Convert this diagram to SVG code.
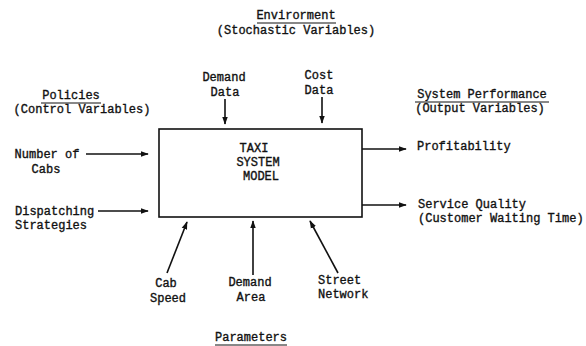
<svg xmlns="http://www.w3.org/2000/svg" width="586" height="346" viewBox="0 0 586 346">
<defs>
<style>
text{font-family:"Liberation Mono","Courier New",monospace;font-size:12px;fill:#111;stroke:#111;stroke-width:0.35}
.c{text-anchor:middle}
.l{stroke:#111;stroke-width:1.6;fill:none}
.u{stroke:#111;stroke-width:1}
</style>
<marker id="ah" viewBox="0 0 10 10" refX="9" refY="5" markerWidth="5" markerHeight="5" orient="auto" markerUnits="strokeWidth">
<path d="M0,1.5 L10,5 L0,8.5 z" fill="#111"/>
</marker>
</defs>
<rect width="586" height="346" fill="#fff"/>
<g id="headings">
<text class="c" x="296" y="19">Envirorment</text>
<line class="u" x1="257" y1="23" x2="336" y2="23"/>
<text class="c" x="296" y="34">(Stochastic Variables)</text>
<text class="c" x="71" y="99">Policies</text>
<line class="u" x1="41" y1="103" x2="101" y2="103"/>
<text class="c" x="82" y="113">(Control Variables)</text>
<text class="c" x="482" y="98">System Performance</text>
<line class="u" x1="415" y1="102" x2="549" y2="102"/>
<text class="c" x="480" y="112">(Output Variables)</text>
<text class="c" x="251" y="341">Parameters</text>
<line class="u" x1="215" y1="345" x2="287" y2="345"/>
</g>
<g id="model">
<rect x="159" y="129" width="203" height="88" fill="#fff" stroke="#111" stroke-width="1.6"/>
<text class="c" x="254" y="152">TAXI</text>
<text class="c" x="258" y="166">SYSTEM</text>
<text class="c" x="261" y="180">MODEL</text>
</g>
<g id="number-of-cabs">
<text class="c" x="47" y="158">Number of</text>
<text class="c" x="46" y="173">Cabs</text>
</g>
<g id="dispatching">
<text x="15" y="215">Dispatching</text>
<text x="15" y="229">Strategies</text>
</g>
<g id="demand-data">
<text class="c" x="224" y="81">Demand</text>
<text class="c" x="225" y="96">Data</text>
</g>
<g id="cost-data">
<text class="c" x="319" y="79">Cost</text>
<text class="c" x="319" y="94">Data</text>
</g>
<g id="profitability">
<text x="417" y="150">Profitability</text>
</g>
<g id="service-quality">
<text x="418" y="208">Service Quality</text>
<text x="418" y="222">(Customer Waiting Time)</text>
</g>
<g id="cab-speed">
<text class="c" x="166" y="287">Cab</text>
<text class="c" x="168" y="302">Speed</text>
</g>
<g id="demand-area">
<text class="c" x="250" y="286">Demand</text>
<text class="c" x="251" y="301">Area</text>
</g>
<g id="street-network">
<text x="318" y="284">Street</text>
<text x="318" y="298">Network</text>
</g>
<g id="connectors">
<line class="l" x1="86" y1="154" x2="148" y2="154" marker-end="url(#ah)"/>
<line class="l" x1="98" y1="211" x2="148" y2="211" marker-end="url(#ah)"/>
<line class="l" x1="225" y1="99" x2="225" y2="124" marker-end="url(#ah)"/>
<line class="l" x1="322" y1="97" x2="322" y2="123" marker-end="url(#ah)"/>
<line class="l" x1="362" y1="149" x2="406" y2="149" marker-end="url(#ah)"/>
<line class="l" x1="362" y1="205" x2="406" y2="205" marker-end="url(#ah)"/>
<line class="l" x1="167" y1="273" x2="187" y2="222" marker-end="url(#ah)"/>
<line class="l" x1="253" y1="275" x2="253" y2="221" marker-end="url(#ah)"/>
<line class="l" x1="338" y1="273" x2="310" y2="221" marker-end="url(#ah)"/>
</g>
</svg>
